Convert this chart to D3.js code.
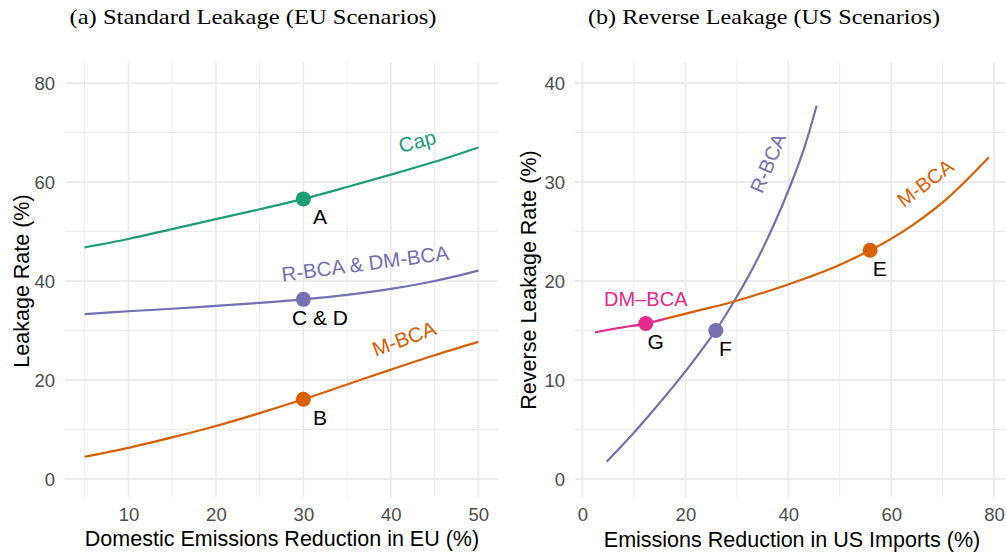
<!DOCTYPE html>
<html>
<head>
<meta charset="utf-8">
<script src="https://cdn.jsdelivr.net/npm/d3@7"></script>
<style>
  html, body { margin: 0; padding: 0; background: #fff; }
  svg { display: block; }
  .sans { font-family: "Liberation Sans", Arial, Helvetica, sans-serif; }
  .serif { font-family: "Liberation Serif", "DejaVu Serif", serif; }
</style>
</head>
<body>
<svg id="chart" width="1006" height="556"></svg>
<script>
// ---- Panel (a): standard leakage, EU scenarios ----
const euReduction   = [5, 10, 15, 20, 25, 30, 35, 40, 45, 50];
const euCap         = [46.8, 48.5, 50.5, 52.5, 54.5, 56.6, 59.0, 61.5, 64.1, 67.0];
const euRbcaDmbca   = [33.3, 33.9, 34.4, 35.0, 35.6, 36.3, 37.2, 38.4, 40.0, 42.1];
const euMbca        = [4.5, 6.3, 8.4, 10.7, 13.3, 16.1, 19.1, 22.1, 25.0, 27.7];
const euPointNames  = ["A", "C & D", "B"];
const euPointX      = [30, 30, 30];
const euPointY      = [56.6, 36.3, 16.1];
const euXTicks      = [10, 20, 30, 40, 50];
const euYTicks      = [0, 20, 40, 60, 80];

// ---- Panel (b): reverse leakage, US scenarios ----
const usRbcaX  = [4.7, 10.2, 15.5, 20.5, 25.9, 29.4, 33.6, 37.3, 40.6, 43.2, 45.5];
const usRbcaY  = [1.75, 4.8, 8.0, 11.2, 15.0, 17.9, 21.8, 25.8, 29.9, 33.6, 37.7];
const usMbcaX  = [16.2, 22.8, 29.3, 39.7, 48.1, 55.9, 59.8, 64.3, 70.8, 79.0];
const usMbcaY  = [16.2, 17.05, 17.9, 19.6, 21.2, 23.1, 24.2, 25.7, 28.3, 32.5];
const usDmbcaX = [2.4, 7.0, 12.3, 16.2];
const usDmbcaY = [14.8, 15.25, 15.7, 16.2];
const usPointNames = ["E", "F", "G"];
const usPointX     = [55.9, 25.9, 12.3];
const usPointY     = [23.1, 15.0, 15.7];
const usXTicks     = [0, 20, 40, 60, 80];
const usYTicks     = [0, 10, 20, 30, 40];

const COL = { cap: "#1B9E77", mbca: "#D95F02", rbca: "#7570B3", dmbca: "#E7298A" };

const svg = d3.select("#chart");

function zip(xs, ys) { return xs.map((x, i) => [x, ys[i]]); }

function drawPanel(cfg) {
  const g = svg.append("g");
  const x = d3.scaleLinear().domain(cfg.xDomain).range(cfg.xRange);
  const y = d3.scaleLinear().domain(cfg.yDomain).range(cfg.yRange);
  const [x0, x1] = cfg.xRange;
  const [y1, y0] = cfg.yRange;

  // minor and major grid
  const grid = g.append("g");
  const minorX = cfg.xTicks.slice(0, -1).map((t, i) => (t + cfg.xTicks[i + 1]) / 2);
  if (cfg.xMinorBefore) minorX.unshift(cfg.xTicks[0] - (cfg.xTicks[1] - cfg.xTicks[0]) / 2);
  const minorY = cfg.yTicks.slice(0, -1).map((t, i) => (t + cfg.yTicks[i + 1]) / 2);
  grid.selectAll(".vminor").data(minorX).join("line")
    .attr("x1", d => x(d)).attr("x2", d => x(d)).attr("y1", y0).attr("y2", y1)
    .attr("stroke", "#EBEBEB").attr("stroke-width", 1.0);
  grid.selectAll(".hminor").data(minorY).join("line")
    .attr("y1", d => y(d)).attr("y2", d => y(d)).attr("x1", x0).attr("x2", x1)
    .attr("stroke", "#EBEBEB").attr("stroke-width", 1.0);
  grid.selectAll(".vmajor").data(cfg.xTicks).join("line")
    .attr("x1", d => x(d)).attr("x2", d => x(d)).attr("y1", y0).attr("y2", y1)
    .attr("stroke", "#EBEBEB").attr("stroke-width", 1.8);
  grid.selectAll(".hmajor").data(cfg.yTicks).join("line")
    .attr("y1", d => y(d)).attr("y2", d => y(d)).attr("x1", x0).attr("x2", x1)
    .attr("stroke", "#EBEBEB").attr("stroke-width", 1.8);

  // axes (labels only, no domain or tick marks)
  const xAxis = g.append("g").attr("transform", `translate(0,${y1})`)
    .call(d3.axisBottom(x).tickValues(cfg.xTicks).tickSize(0).tickPadding(18));
  const yAxis = g.append("g").attr("transform", `translate(${x0},0)`)
    .call(d3.axisLeft(y).tickValues(cfg.yTicks).tickSize(0).tickPadding(10));
  [xAxis, yAxis].forEach(a => {
    a.select(".domain").remove();
    a.selectAll("text").attr("class", "sans").attr("font-size", 18.5)
      .attr("fill", "#4D4D4D").attr("font-family", null);
  });
  xAxis.selectAll("text").attr("dy", null).attr("y", 24);
  yAxis.selectAll("text").attr("dy", "0.36em");

  // curves
  const line = d3.line().x(d => x(d[0])).y(d => y(d[1])).curve(d3.curveCatmullRom.alpha(0.5));
  cfg.series.forEach(s => {
    g.append("path").datum(s.data).attr("d", line)
      .attr("fill", "none").attr("stroke", s.color).attr("stroke-width", 2.2)
      .attr("stroke-linecap", "butt");
  });

  // scenario points
  g.selectAll(".pt").data(cfg.points).join("circle")
    .attr("cx", d => x(d.x)).attr("cy", d => y(d.y)).attr("r", 7.5)
    .attr("fill", d => d.color);

  // point names
  g.selectAll(".ptname").data(cfg.pointLabels).join("text")
    .attr("class", "sans").attr("font-size", 21).attr("fill", "#000")
    .attr("text-anchor", "middle").attr("dominant-baseline", "central")
    .attr("x", d => x(d.x)).attr("y", d => y(d.y)).text(d => d.text);

  // curve names
  g.selectAll(".curvename").data(cfg.curveLabels).join("text")
    .attr("class", "sans").attr("font-size", d => d.size || 20).attr("fill", d => d.color)
    .attr("text-anchor", "middle").attr("dominant-baseline", "central")
    .attr("transform", d => `translate(${x(d.x)},${y(d.y)}) rotate(${d.angle})`)
    .text(d => d.text);

  // axis titles
  g.append("text").attr("class", "sans").attr("font-size", 21.5).attr("fill", "#000")
    .attr("text-anchor", "middle")
    .attr("x", cfg.xTitlePos[0]).attr("y", cfg.xTitlePos[1]).text(cfg.xTitle);
  g.append("text").attr("class", "sans").attr("font-size", 21.5).attr("fill", "#000")
    .attr("text-anchor", "middle")
    .attr("transform", `translate(${cfg.yTitlePos[0]},${cfg.yTitlePos[1]}) rotate(-90)`)
    .text(cfg.yTitle);

  // panel title
  g.append("text").attr("class", "serif").attr("font-size", 21).attr("fill", "#000")
    .attr("text-anchor", "middle")
    .attr("x", cfg.titlePos[0]).attr("y", cfg.titlePos[1])
    .attr("textLength", cfg.titleWidth).attr("lengthAdjust", "spacingAndGlyphs")
    .text(cfg.title);
}

drawPanel({
  xDomain: [2.75, 52.25], xRange: [65, 498],
  yDomain: [-3.64, 84.2], yRange: [497, 62.3],
  xTicks: euXTicks, yTicks: euYTicks, xMinorBefore: true,
  series: [
    { data: zip(euReduction, euCap), color: COL.cap },
    { data: zip(euReduction, euRbcaDmbca), color: COL.rbca },
    { data: zip(euReduction, euMbca), color: COL.mbca }
  ],
  points: [
    { x: euPointX[0], y: euPointY[0], color: COL.cap },
    { x: euPointX[1], y: euPointY[1], color: COL.rbca },
    { x: euPointX[2], y: euPointY[2], color: COL.mbca }
  ],
  pointLabels: euPointNames.map((t, i) => ({ text: t, x: euPointX[i] + 1.9, y: euPointY[i] - 3.6 })),
  curveLabels: [
    { text: "Cap", x: 43, y: 68.3, angle: -15, color: COL.cap, size: 20.5 },
    { text: "R-BCA & DM-BCA", x: 37.05, y: 43.6, angle: -7.5, color: COL.rbca, size: 20.5 },
    { text: "M-BCA", x: 41.5, y: 28.4, angle: -20, color: COL.mbca, size: 20.5 }
  ],
  xTitle: "Domestic Emissions Reduction in EU (%)", xTitlePos: [282, 546],
  yTitle: "Leakage Rate (%)", yTitlePos: [29, 281],
  title: "(a) Standard Leakage (EU Scenarios)", titlePos: [253, 24], titleWidth: 367
});

drawPanel({
  xDomain: [-1.46, 82.86], xRange: [575, 1008.8],
  yDomain: [-1.82, 42.09], yRange: [497, 62.3],
  xTicks: usXTicks, yTicks: usYTicks, xMinorBefore: false,
  series: [
    { data: zip(usRbcaX, usRbcaY), color: COL.rbca },
    { data: zip(usMbcaX, usMbcaY), color: COL.mbca },
    { data: zip(usDmbcaX, usDmbcaY), color: COL.dmbca }
  ],
  points: [
    { x: usPointX[0], y: usPointY[0], color: COL.mbca },
    { x: usPointX[1], y: usPointY[1], color: COL.rbca },
    { x: usPointX[2], y: usPointY[2], color: COL.dmbca }
  ],
  pointLabels: usPointNames.map((t, i) => ({ text: t, x: usPointX[i] + 1.9, y: usPointY[i] - 1.8 })),
  curveLabels: [
    { text: "R-BCA", x: 36.05, y: 31.9, angle: -67, color: COL.rbca, size: 20 },
    { text: "M-BCA", x: 66.6, y: 29.9, angle: -37, color: COL.mbca, size: 20 },
    { text: "DM\u2013BCA", x: 12.3, y: 18.2, angle: 0, color: COL.dmbca, size: 20 }
  ],
  xTitle: "Emissions Reduction in US Imports (%)", xTitlePos: [792, 547],
  yTitle: "Reverse Leakage Rate (%)", yTitlePos: [536, 280],
  title: "(b) Reverse Leakage (US Scenarios)", titlePos: [764, 24], titleWidth: 352
});
</script>
</body>
</html>
